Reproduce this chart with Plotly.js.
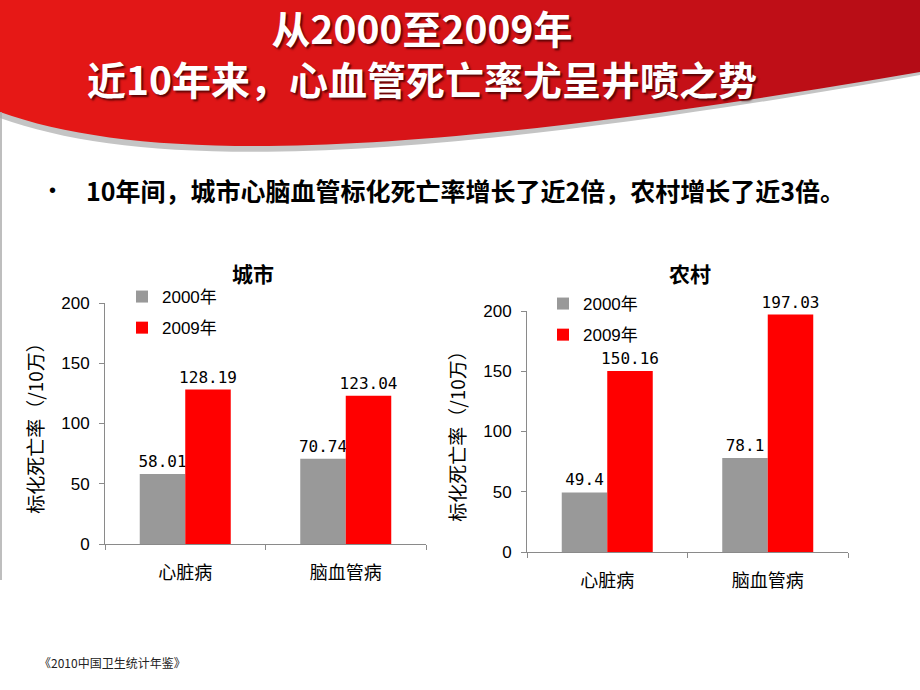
<!DOCTYPE html>
<html>
<head>
<meta charset="utf-8">
<script src="https://cdn.plot.ly/plotly-3.0.1.min.js"></script>
<style>
html,body{margin:0;padding:0;background:#fff;}
#chart{width:920px;height:690px;}
</style>
</head>
<body>
<div id="chart"></div>
<script>
// ---- data ----
const categories = ['心脏病', '脑血管病'];
const seriesNames = ['2000年', '2009年'];
const city2000 = [58.01, 70.74];
const city2009 = [128.19, 123.04];
const rural2000 = [49.4, 78.1];
const rural2009 = [150.16, 197.03];
const chartTitles = ['城市', '农村'];
const yTitle = '标化死亡率（/10万）';
const yTicks = [0, 50, 100, 150, 200];
const headline1 = '从2000至2009年';
const headline2 = '近10年来，心血管死亡率尤呈井喷之势';
const bulletText = '10年间，城市心脑血管标化死亡率增长了近2倍，农村增长了近3倍。';
const sourceNote = '《2010中国卫生统计年鉴》';

// ---- helpers (pixel -> paper) ----
const W = 920, H = 690;
const px = x => x / W;
const py = y => 1 - y / H;
const P = (x, y) => px(x).toFixed(5) + ',' + py(y).toFixed(5);

const GRAY = '#999999', RED = '#ff0000';
const CJK = '"Noto Sans CJK SC", "Liberation Sans", sans-serif';
const NUMF = '"Liberation Sans", "Noto Sans CJK SC", sans-serif';
const LBLF = '"DejaVu Sans Mono", monospace';

function barTrace(name, y, color, xa, ya, legend, group) {
  return {
    type: 'bar', name: name, x: categories, y: y,
    xaxis: xa, yaxis: ya, legend: legend, legendgroup: group,
    marker: {color: color, line: {width: 0}},
    text: y.map(v => String(v)), textposition: 'outside', constraintext: 'none',
    textfont: {family: LBLF, size: 16, color: '#000'},
    cliponaxis: false, hoverinfo: 'skip'
  };
}

const data = [
  barTrace(seriesNames[0], city2000, GRAY, 'x', 'y', 'legend', 'a1'),
  barTrace(seriesNames[1], city2009, RED, 'x', 'y', 'legend', 'b1'),
  barTrace(seriesNames[0], rural2000, GRAY, 'x2', 'y2', 'legend2', 'a2'),
  barTrace(seriesNames[1], rural2009, RED, 'x2', 'y2', 'legend2', 'b2')
];

// ---- header decoration ----
const shapes = [];
const N = 46;
const cL = [230, 24, 22], cM = [214, 20, 24], cR = [180, 12, 22];
for (let i = 0; i < N; i++) {
  const t = i / (N - 1);
  let c;
  if (t < 0.5) { const u = t / 0.5; c = cL.map((v, k) => Math.round(v + (cM[k] - v) * u)); }
  else { const u = (t - 0.5) / 0.5; c = cM.map((v, k) => Math.round(v + (cR[k] - v) * u)); }
  const x0 = i * W / N, x1 = (i + 1) * W / N + 1;
  shapes.push({type: 'rect', xref: 'paper', yref: 'paper', layer: 'below',
    x0: px(x0), x1: px(x1), y0: py(0), y1: py(178),
    fillcolor: 'rgb(' + c.join(',') + ')', line: {width: 0}});
}
shapes.push({type: 'path', xref: 'paper', yref: 'paper', layer: 'below',
  path: 'M' + P(0, 112) + ' C' + P(150, 166) + ' ' + P(420, 158) + ' ' + P(920, 72) +
        ' L' + P(920, 180) + ' L' + P(0, 180) + ' Z',
  fillcolor: '#c4c4c4', line: {width: 0}});
shapes.push({type: 'path', xref: 'paper', yref: 'paper', layer: 'below',
  path: 'M' + P(0, 118) + ' C' + P(150, 172) + ' ' + P(420, 164) + ' ' + P(920, 75) +
        ' L' + P(920, 180) + ' L' + P(0, 180) + ' Z',
  fillcolor: '#ffffff', line: {width: 0}});
shapes.push({type: 'line', xref: 'paper', yref: 'paper', layer: 'below',
  x0: px(1), x1: px(1), y0: py(112), y1: py(580),
  line: {color: '#a8a8a8', width: 1.5}});

// ---- text ----
const shadow = '2px 2px 2px rgba(70,0,0,0.85)';
const annotations = [
  {text: '<b>' + headline1 + '<br>' + headline2 + '</b>', x: px(422), y: py(53),
   xref: 'paper', yref: 'paper', showarrow: false, xanchor: 'center', yanchor: 'middle',
   align: 'center',
   font: {family: CJK, size: 39, color: '#ffffff', shadow: shadow}},
  {text: '•', x: px(52), y: py(190), xref: 'paper', yref: 'paper', showarrow: false,
   xanchor: 'center', yanchor: 'middle', font: {family: NUMF, size: 20, color: '#000'}},
  {text: '<b>' + bulletText + '</b>', x: px(84), y: py(190), xref: 'paper', yref: 'paper',
   showarrow: false, xanchor: 'left', yanchor: 'middle',
   font: {family: CJK, size: 25, color: '#000'}},
  {text: '<b>' + chartTitles[0] + '</b>', x: px(253), y: py(273), xref: 'paper', yref: 'paper',
   showarrow: false, xanchor: 'center', yanchor: 'middle',
   font: {family: CJK, size: 21, color: '#000'}},
  {text: '<b>' + chartTitles[1] + '</b>', x: px(690), y: py(273), xref: 'paper', yref: 'paper',
   showarrow: false, xanchor: 'center', yanchor: 'middle',
   font: {family: CJK, size: 21, color: '#000'}},
  {text: sourceNote, x: px(37), y: py(662), xref: 'paper', yref: 'paper',
   showarrow: false, xanchor: 'left', yanchor: 'middle',
   font: {family: CJK, size: 12, color: '#222'}}
];

function xAxis(domain) {
  return {domain: domain, type: 'category', showline: true, linecolor: '#8a8a8a', linewidth: 1,
    ticks: 'outside', tickson: 'boundaries', ticklen: 5, tickcolor: '#8a8a8a',
    showgrid: false, zeroline: false, ticklabelstandoff: 12,
    tickfont: {family: CJK, size: 18, color: '#000'}, fixedrange: true};
}
function yAxis(domain, anchor) {
  return {domain: domain, anchor: anchor, range: [0, 200], tickvals: yTicks,
    showline: true, linecolor: '#8a8a8a', linewidth: 1,
    ticks: 'outside', ticklen: 5, tickcolor: '#8a8a8a', ticklabelstandoff: 6,
    showgrid: false, zeroline: false, automargin: false,
    tickfont: {family: NUMF, size: 17, color: '#000'},
    title: {text: yTitle, standoff: 12, font: {family: CJK, size: 19, color: '#000'}},
    fixedrange: true};
}

const legendBase = {orientation: 'v', xanchor: 'left', yanchor: 'top',
  bgcolor: 'rgba(0,0,0,0)', borderwidth: 0, tracegroupgap: 6, itemwidth: 30,
  font: {family: NUMF, size: 17, color: '#000'}};

const layout = {
  width: W, height: H,
  margin: {l: 0, r: 0, t: 0, b: 0},
  paper_bgcolor: '#ffffff', plot_bgcolor: 'rgba(0,0,0,0)',
  showlegend: true,
  barmode: 'group', bargap: 0.433, bargroupgap: 0,
  xaxis: xAxis([px(105), px(426)]),
  yaxis: yAxis([py(544), py(303)], 'x'),
  xaxis2: Object.assign(xAxis([px(527), px(848)]), {anchor: 'y2'}),
  yaxis2: yAxis([py(552), py(311)], 'x2'),
  legend: Object.assign({}, legendBase, {x: px(122), y: py(279)}),
  legend2: Object.assign({}, legendBase, {x: px(543), y: py(286)}),
  shapes: shapes,
  annotations: annotations
};
layout.xaxis.anchor = 'y';

Plotly.newPlot('chart', data, layout, {displayModeBar: false, staticPlot: true});
</script>
</body>
</html>
